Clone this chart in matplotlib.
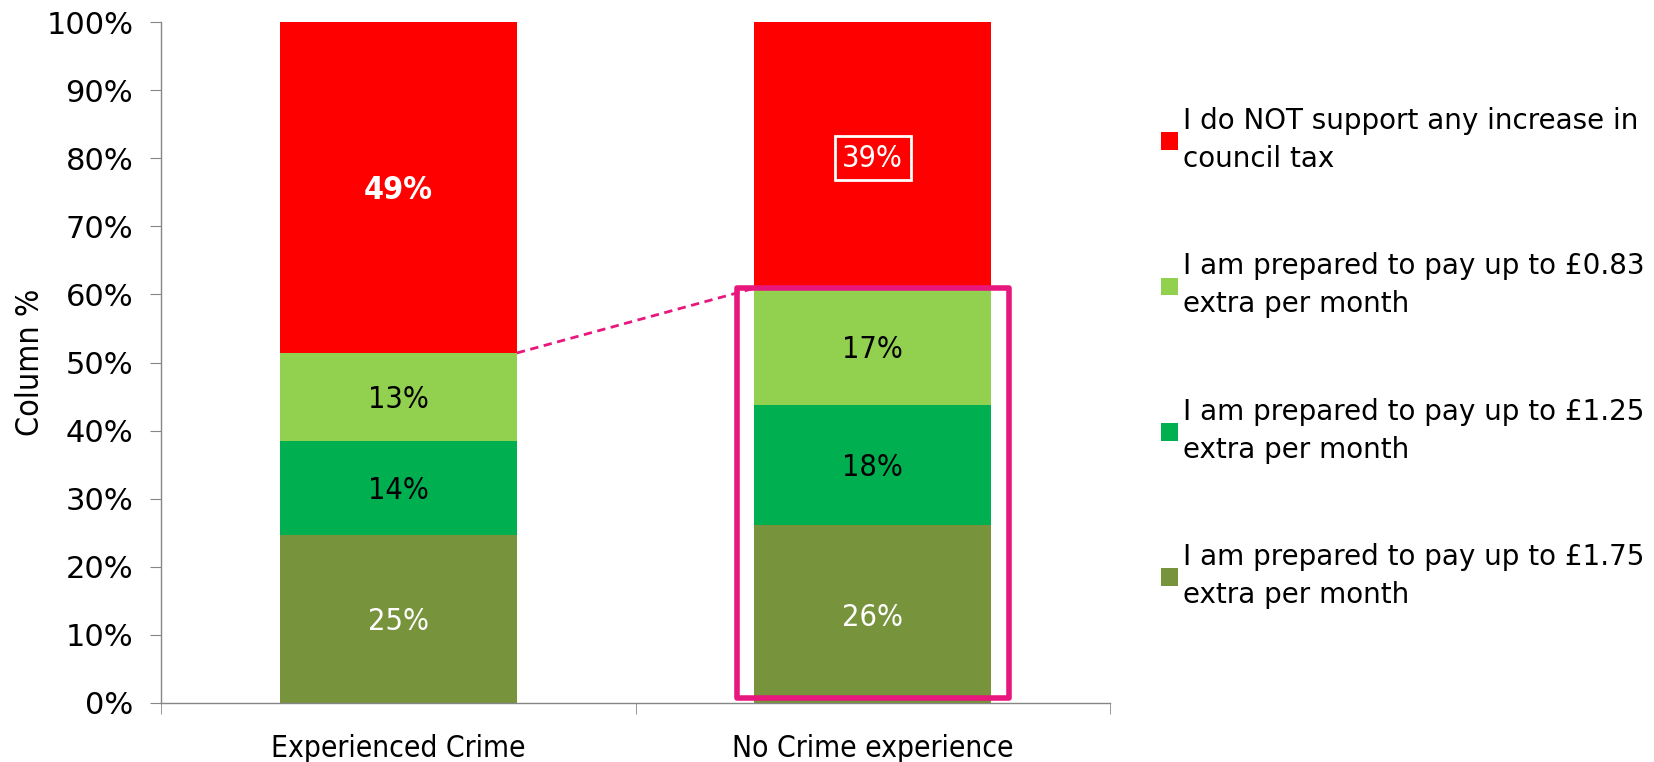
import matplotlib
matplotlib.use("Agg")
import matplotlib.pyplot as plt
from matplotlib.patches import Rectangle
import numpy as np

categories = ["Experienced Crime", "No Crime experience"]
series_names = [
    "I am prepared to pay up to £1.75\nextra per month",
    "I am prepared to pay up to £1.25\nextra per month",
    "I am prepared to pay up to £0.83\nextra per month",
    "I do NOT support any increase in\ncouncil tax",
]
pay_175 = [24.7, 26.1]
pay_125 = [13.8, 17.7]
pay_083 = [12.9, 17.1]
no_increase = [48.6, 39.1]
label_175 = ["25%", "26%"]
label_125 = ["14%", "18%"]
label_083 = ["13%", "17%"]
label_none = ["49%", "39%"]

colors = ["#77933C", "#00B050", "#92D050", "#FF0000"]
LABEL_FONT = 22
TICK_FONT = 22

plt.rcParams['font.family'] = ['DejaVu Sans']

fig = plt.figure(figsize=(16.54, 7.62), dpi=100)
ax = fig.add_axes([161 / 1654, 59 / 762, 949 / 1654, 681 / 762])

x = np.arange(len(categories))
width = 0.5
bottom = np.zeros(len(categories))
all_values = [pay_175, pay_125, pay_083, no_increase]
all_labels = [label_175, label_125, label_083, label_none]
handles = []
for vals, labs, col, name in zip(all_values, all_labels, colors, series_names):
    vals = np.array(vals)
    b = ax.bar(x, vals, width, bottom=bottom, color=col, label=name, linewidth=0)
    handles.append(b)
    for i in range(len(x)):
        ypos = bottom[i] + vals[i] / 2
        txt_color = "black"
        weight = "normal"
        if col in ("#77933C", "#FF0000"):
            txt_color = "white"
        if col == "#FF0000" and i == 0:
            weight = "bold"
        if col == "#FF0000" and i == 1:
            ax.text(x[i], ypos, labs[i], ha="center", va="center_baseline", color=txt_color,
                    fontsize=LABEL_FONT, fontstretch="condensed",
                    bbox=dict(boxstyle="square,pad=0.25", fc="none", ec="white", lw=2))
        else:
            ax.text(x[i], ypos, labs[i], ha="center", va="center_baseline", color=txt_color,
                    fontsize=LABEL_FONT + (1 if weight == "bold" else 0),
                    fontweight=weight, fontstretch="condensed")
    bottom = bottom + vals

# highlight box around the second column and a dashed connector
pink = "#E8177D"
top2 = pay_175[1] + pay_125[1] + pay_083[1]
top1 = pay_175[0] + pay_125[0] + pay_083[0]
ax.add_patch(Rectangle((1 - 0.287, 0.8), 0.574, top2 + 0.1 - 0.8, fill=False,
                       ec=pink, lw=4, joinstyle="round", clip_on=False, zorder=5))
ax.plot([0 + width / 2, 1 - width / 2], [top1, top2], color=pink, lw=2,
        ls=(0, (3, 2)), zorder=5)

ax.set_xlim(-0.5, 1.5)
ax.set_ylim(0, 100)
ax.set_yticks(np.arange(0, 101, 10))
ax.set_yticklabels([f"{v}%" for v in range(0, 101, 10)], fontsize=TICK_FONT)
ax.set_xticks(x)
ax.set_xticklabels(categories, fontsize=21.5, fontstretch="condensed")
ax.set_xticks([-0.5, 0.5, 1.5], minor=True)
ax.tick_params(axis="x", which="major", length=0, pad=22)
ax.tick_params(axis="x", which="minor", length=8, direction="out", color="#868686")
ax.tick_params(axis="y", length=8, direction="out", color="#868686", pad=12)
ax.set_ylabel("Column %", fontsize=23, fontstretch="condensed", labelpad=0)

for s in ["top", "right"]:
    ax.spines[s].set_visible(False)
for s in ["left", "bottom"]:
    ax.spines[s].set_color("#868686")
    ax.spines[s].set_linewidth(1)

leg = fig.legend(handles[::-1], series_names[::-1], loc="upper left",
                 bbox_to_anchor=(1136 / 1654, 1 - 82 / 762), frameon=False,
                 fontsize=20, handlelength=0.6, handleheight=0.6,
                 handletextpad=0.2, labelspacing=2.86)
for t in leg.get_texts():
    t.set_linespacing(1.45)

fig.savefig("out.png", dpi=100)
